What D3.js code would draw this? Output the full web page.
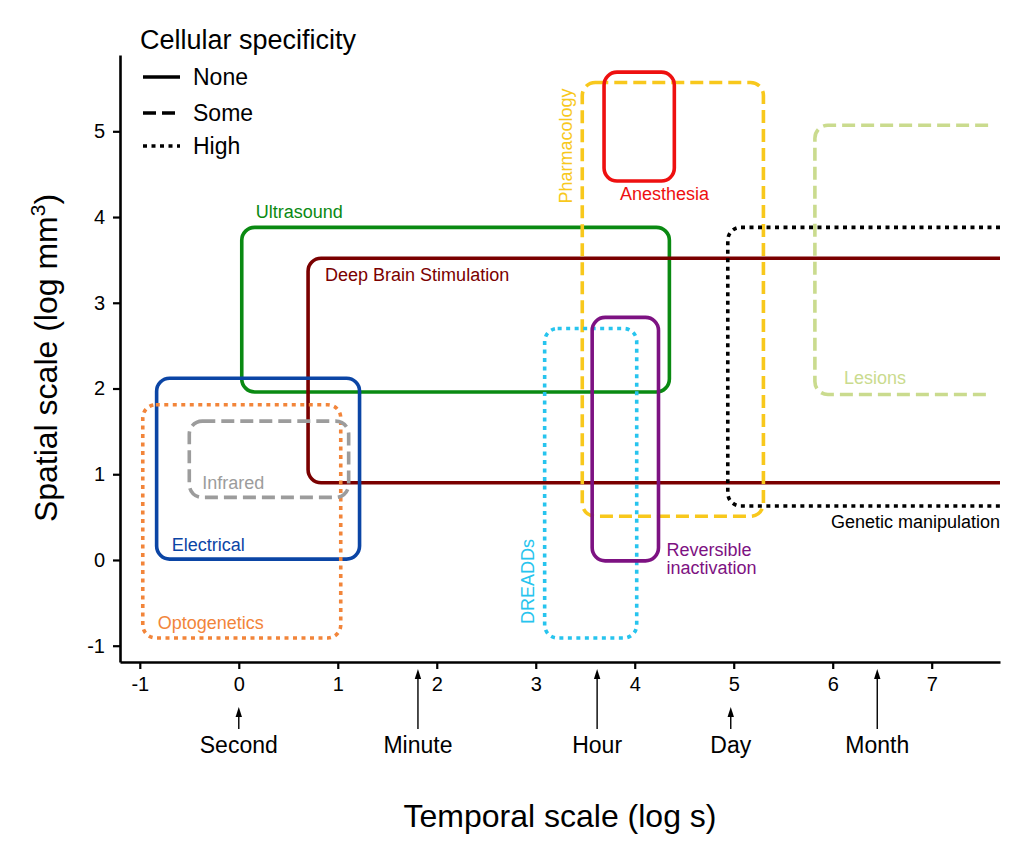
<!DOCTYPE html>
<html>
<head>
<meta charset="utf-8">
<script src="https://cdn.jsdelivr.net/npm/d3@7"></script>
<style>
  body { margin: 0; background: #fff; }
  text { font-family: "Liberation Sans", Arial, sans-serif; }
</style>
</head>
<body>
<svg id="chart" width="1024" height="844"></svg>
<script>
// Methods and their extents (log s, log mm^3)
var methods = ["Ultrasound", "Deep Brain Stimulation", "Electrical", "Optogenetics", "Infrared",
  "Pharmacology", "Anesthesia", "DREADDs", "Reversible inactivation", "Genetic manipulation", "Lesions"];
var tMin = [0.03, 0.70, -0.83, -0.97, -0.50, 3.47, 3.69, 3.09, 3.57, 4.94, 5.82];
var tMax = [4.35, 7.69, 1.22, 1.03, 1.11, 5.30, 4.40, 4.02, 4.24, 7.69, 7.57];
var sMin = [1.96, 0.90, 0.01, -0.91, 0.73, 0.51, 4.42, -0.91, -0.01, 0.63, 1.93];
var sMax = [3.88, 3.52, 2.12, 1.81, 1.62, 5.57, 5.69, 2.70, 2.83, 3.88, 5.07];
// "none", "some", "high" cellular specificity
var specificity = ["none", "none", "none", "high", "some", "some", "none", "high", "none", "high", "some"];
// Methods whose range continues off the right edge
var openRight = [false, true, false, false, false, false, false, false, false, true, true];

var xTicks = [-1, 0, 1, 2, 3, 4, 5, 6, 7];
var yTicks = [-1, 0, 1, 2, 3, 4, 5];

// Reference time points (log s)
var timeNames = ["Second", "Minute", "Hour", "Day", "Month"];
var timeValues = [0, 1.81, 3.62, 4.97, 6.45];

var specNames = ["None", "Some", "High"];

// Styles
var colors = {
  "Ultrasound": "#0a8a12", "Deep Brain Stimulation": "#7a0000", "Electrical": "#0b45a5",
  "Optogenetics": "#f2853a", "Infrared": "#9c9c9c", "Pharmacology": "#f8c81c",
  "Anesthesia": "#ee1010", "DREADDs": "#27c4ee", "Reversible inactivation": "#7d1282",
  "Genetic manipulation": "#000000", "Lesions": "#cadb8e"
};
var dashes = { none: null, some: "13,6", high: "4,4.5" };

var svg = d3.select("#chart");
var x = d3.scaleLinear().domain([-1.2, 7.69]).range([120, 1000]);
var y = d3.scaleLinear().domain([-1.19, 5.89]).range([662, 55]);
var r = 13;

// Draw each method box
var boxes = svg.append("g");
methods.forEach(function(m, i){
  var xl = x(tMin[i]), xr = x(tMax[i]), yt = y(sMax[i]), yb = y(sMin[i]);
  var p = d3.path();
  if (openRight[i]) {
    p.moveTo(xr, yt);
    p.lineTo(xl + r, yt);
    p.arcTo(xl, yt, xl, yt + r, r);
    p.lineTo(xl, yb - r);
    p.arcTo(xl, yb, xl + r, yb, r);
    p.lineTo(xr, yb);
  } else {
    p.moveTo(xl + r, yt);
    p.lineTo(xr - r, yt);
    p.arcTo(xr, yt, xr, yt + r, r);
    p.lineTo(xr, yb - r);
    p.arcTo(xr, yb, xr - r, yb, r);
    p.lineTo(xl + r, yb);
    p.arcTo(xl, yb, xl, yb - r, r);
    p.lineTo(xl, yt + r);
    p.arcTo(xl, yt, xl + r, yt, r);
    p.closePath();
  }
  boxes.append("path")
    .attr("d", p.toString())
    .attr("fill", "none")
    .attr("stroke", colors[m])
    .attr("stroke-width", 3.6)
    .attr("stroke-dasharray", dashes[specificity[i]]);
});

// Labels for the boxes
function label(m, px, py, opts) {
  opts = opts || {};
  var t = svg.append("text")
    .attr("fill", colors[m])
    .attr("font-size", 18)
    .attr("text-anchor", opts.anchor || "start");
  if (opts.rotate) {
    t.attr("transform", "translate(" + px + "," + py + ") rotate(-90)");
  } else {
    t.attr("x", px).attr("y", py);
  }
  if (opts.lines) {
    opts.lines.forEach(function(l, k){
      t.append("tspan").attr("x", px).attr("dy", k === 0 ? 0 : "1.0em").text(l);
    });
  } else {
    t.text(m);
  }
}
var idx = function(m){ return methods.indexOf(m); };
label("Ultrasound", x(tMin[idx("Ultrasound")]) + 14, y(sMax[idx("Ultrasound")]) - 9);
label("Deep Brain Stimulation", x(tMin[idx("Deep Brain Stimulation")]) + 17, y(sMax[idx("Deep Brain Stimulation")]) + 23);
label("Electrical", x(tMin[idx("Electrical")]) + 15, y(sMin[idx("Electrical")]) - 8);
label("Optogenetics", x(tMin[idx("Optogenetics")]) + 15, y(sMin[idx("Optogenetics")]) - 9);
label("Infrared", x(tMin[idx("Infrared")]) + 13, y(sMin[idx("Infrared")]) - 8);
label("Anesthesia", x(tMin[idx("Anesthesia")]) + 16, y(sMin[idx("Anesthesia")]) + 19);
label("Pharmacology", x(tMin[idx("Pharmacology")]) - 10, y(sMax[idx("Pharmacology")]) + 6, { rotate: true, anchor: "end" });
label("DREADDs", x(tMin[idx("DREADDs")]) - 11, y(sMin[idx("DREADDs")]) - 14, { rotate: true, anchor: "start" });
label("Reversible inactivation", x(tMax[idx("Reversible inactivation")]) + 8, y(sMin[idx("Reversible inactivation")]) - 5,
  { lines: ["Reversible", "inactivation"] });
label("Genetic manipulation", 1000, y(sMin[idx("Genetic manipulation")]) + 22, { anchor: "end" });
label("Lesions", x(tMin[idx("Lesions")]) + 29, y(sMin[idx("Lesions")]) - 11);

// Axes
var xAxis = svg.append("g")
  .attr("transform", "translate(0," + 662 + ")")
  .call(d3.axisBottom(x).tickValues(xTicks).tickSize(7).tickSizeOuter(0).tickPadding(8).tickFormat(d3.format("d")));
var yAxis = svg.append("g")
  .attr("transform", "translate(" + 120 + ",0)")
  .call(d3.axisLeft(y).tickValues(yTicks).tickSize(7).tickSizeOuter(0).tickPadding(8).tickFormat(d3.format("d")));
[xAxis, yAxis].forEach(function(a){
  a.select(".domain").attr("stroke-width", 2.6);
  a.selectAll(".tick line").attr("stroke-width", 2.2);
  a.selectAll(".tick text").attr("font-size", 20).attr("font-family", "Liberation Sans, Arial, sans-serif").attr("fill", "#000");
});
xAxis.selectAll(".tick text").text(function(d){ return d < 0 ? "-" + Math.abs(d) : d; });
yAxis.selectAll(".tick text").text(function(d){ return d < 0 ? "-" + Math.abs(d) : d; });

// Axis titles
svg.append("text")
  .attr("x", 560).attr("y", 827)
  .attr("text-anchor", "middle").attr("font-size", 32)
  .text("Temporal scale (log s)");
var yt = svg.append("text")
  .attr("transform", "translate(57,358) rotate(-90)")
  .attr("text-anchor", "middle").attr("font-size", 32);
yt.append("tspan").text("Spatial scale (log mm");
yt.append("tspan").attr("dy", -12).attr("font-size", 21).text("3");
yt.append("tspan").attr("dy", 12).text(")");

// Time reference arrows
var shortArrow = { "Second": true, "Day": true };
timeNames.forEach(function(n, i){
  var px = x(timeValues[i]);
  var tip = shortArrow[n] ? 707 : 669;
  svg.append("line")
    .attr("x1", px).attr("x2", px)
    .attr("y1", 729).attr("y2", tip + 6)
    .attr("stroke", "#000").attr("stroke-width", 1.4);
  svg.append("path")
    .attr("d", "M" + px + "," + tip + " L" + (px - 3.2) + "," + (tip + 10) + " L" + (px + 3.2) + "," + (tip + 10) + " Z")
    .attr("fill", "#000");
  svg.append("text")
    .attr("x", px).attr("y", 753)
    .attr("text-anchor", "middle").attr("font-size", 23)
    .text(n);
});

// Legend
var legend = svg.append("g");
legend.append("text").attr("x", 140).attr("y", 49).attr("font-size", 27).text("Cellular specificity");
specNames.forEach(function(s, i){
  var ly = [77, 113, 146][i];
  legend.append("line")
    .attr("x1", 143).attr("x2", 180).attr("y1", ly).attr("y2", ly)
    .attr("stroke", "#000").attr("stroke-width", 3.6)
    .attr("stroke-dasharray", dashes[s.toLowerCase()]);
  legend.append("text").attr("x", 193).attr("y", ly + 8).attr("font-size", 23).text(s);
});
</script>
</body>
</html>
